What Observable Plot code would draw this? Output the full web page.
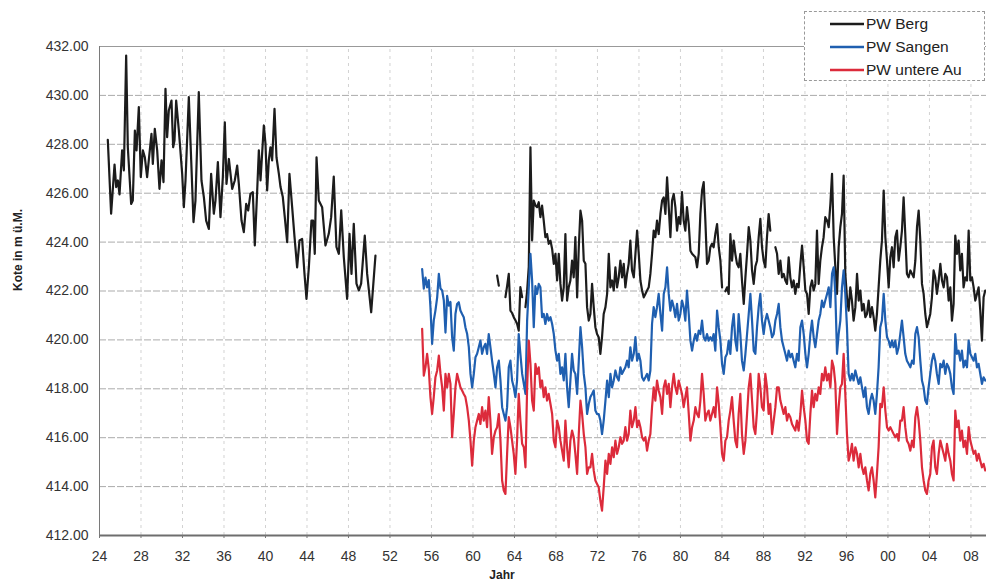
<!DOCTYPE html>
<html>
<head>
<meta charset="utf-8">
<script src="https://cdn.jsdelivr.net/npm/d3@7"></script>
<script src="https://cdn.jsdelivr.net/npm/@observablehq/plot@0.6"></script>
<style>
  body { margin: 0; background: #fff; }
  #wrap { position: relative; width: 986px; height: 588px; font-family: "Liberation Sans", Arial, sans-serif; color: #333; }
  #legend { position: absolute; left: 804px; top: 11px; width: 181px; height: 70px; border: 1px dashed #999; background: #fff; box-sizing: border-box; }
  .row { position: absolute; left: 0; height: 20px; line-height: 20px; font-size: 15.5px; color: #222; white-space: nowrap; }
  .row svg { position: absolute; left: 25px; top: 0; }
  .row span { position: absolute; left: 61px; top: 0; }
</style>
</head>
<body>
<div id="wrap"></div>
<script>
// ---------- data ----------
const seriesNames = ["PW Berg", "PW Sangen", "PW untere Au"];
const seriesColors = ["#1c1c1c", "#1f5fb0", "#dc2b3b"];

const xTicks = [1924,1928,1932,1936,1940,1944,1948,1952,1956,1960,1964,1968,1972,1976,1980,1984,1988,1992,1996,2000,2004,2008];
const yTicks = [412,414,416,418,420,422,424,426,428,430,432];

// PW Berg 1924-1950 [year, m ü.M.]
const berg1 = [
[1924.80,428.18],[1925.12,425.16],[1925.45,427.17],[1925.61,426.25],[1925.77,426.52],[1925.93,425.95],[1926.18,427.75],[1926.35,426.93],[1926.57,431.63],[1926.73,427.88],
[1927.05,425.56],[1927.21,425.70],[1927.41,428.56],[1927.57,427.75],[1927.79,429.52],[1927.98,426.66],[1928.18,427.75],[1928.37,427.47],[1928.59,426.66],[1928.75,427.34],
[1929.01,428.43],[1929.14,427.20],[1929.33,428.63],[1929.56,427.75],[1929.78,426.18],[1929.98,427.34],[1930.17,426.45],[1930.36,430.27],[1930.52,428.29],[1930.68,429.38],
[1930.94,429.79],[1931.10,427.88],[1931.23,428.15],[1931.39,429.79],[1931.65,428.56],[1931.97,426.79],[1932.13,425.43],[1932.29,426.52],[1932.61,429.93],[1932.84,427.34],
[1933.06,424.82],[1933.25,425.70],[1933.57,430.13],[1933.83,426.52],[1934.06,425.84],[1934.28,424.88],[1934.54,424.54],[1934.76,426.79],[1935.02,425.16],[1935.18,425.70],
[1935.41,427.27],[1935.66,425.02],[1935.89,426.66],[1936.08,428.90],[1936.24,426.38],[1936.47,427.40],[1936.79,426.18],[1937.04,426.52],[1937.27,427.13],[1937.43,426.38],
[1937.69,424.88],[1937.91,424.41],[1938.14,425.56],[1938.33,425.29],[1938.55,425.97],[1938.78,426.04],[1938.97,423.86],[1939.20,426.11],[1939.36,427.75],[1939.52,426.52],
[1939.84,428.77],[1940.00,428.02],[1940.16,426.11],[1940.32,427.34],[1940.48,427.88],[1940.64,427.34],[1940.87,429.45],[1941.06,427.47],[1941.29,426.79],[1941.45,426.25],
[1941.67,425.84],[1941.86,425.02],[1942.09,424.00],[1942.31,426.79],[1942.57,425.43],[1942.80,424.20],[1943.05,422.97],[1943.28,424.07],[1943.53,424.13],[1943.76,422.70],
[1943.95,421.68],[1944.18,422.97],[1944.43,424.88],[1944.59,424.88],[1944.75,423.52],[1944.92,427.47],[1945.14,425.70],[1945.46,425.43],[1945.78,423.86],[1946.10,424.34],
[1946.33,425.02],[1946.58,426.68],[1946.84,423.80],[1947.07,423.52],[1947.30,425.30],[1947.55,423.38],[1947.87,421.68],[1948.10,424.34],[1948.29,422.70],[1948.51,424.75],
[1948.77,422.30],[1949.00,422.02],[1949.22,422.30],[1949.57,424.27],[1949.80,422.70],[1950.19,421.13],[1950.60,423.45]
];

// common sampling dates 1955-2009
const zeit = [
1955.10,1955.26,1955.42,1955.58,1955.74,1955.90,1956.06,1956.22,1956.38,1956.55,
1956.71,1956.87,1957.03,1957.19,1957.35,1957.51,1957.67,1957.83,1957.99,1958.15,
1958.31,1958.47,1958.63,1958.79,1958.95,1959.11,1959.27,1959.44,1959.60,1959.76,
1959.92,1960.08,1960.24,1960.40,1960.56,1960.72,1960.88,1961.04,1961.20,1961.36,
1961.52,1961.68,1961.84,1962.01,1962.17,1962.33,1962.49,1962.65,1962.81,1962.97,
1963.13,1963.29,1963.45,1963.61,1963.77,1963.93,1964.09,1964.25,1964.41,1964.57,
1964.74,1964.90,1965.06,1965.22,1965.38,1965.54,1965.70,1965.86,
1966.02,1966.18,1966.34,1966.50,1966.66,1966.82,1966.98,1967.14,1967.30,1967.47,
1967.63,1967.79,1967.95,1968.11,1968.27,1968.43,1968.59,1968.75,1968.91,1969.07,
1969.23,1969.39,1969.55,1969.71,1969.87,1970.04,1970.20,1970.36,1970.52,1970.68,
1970.84,1971.00,1971.16,1971.32,1971.48,1971.64,1971.80,1971.96,1972.12,1972.28,
1972.44,1972.60,1972.77,1972.93,1973.09,1973.25,1973.41,1973.57,1973.73,1973.89,
1974.05,1974.21,1974.37,1974.53,1974.69,1974.85,1975.01,1975.17,1975.33,1975.50,
1975.66,1975.82,1975.98,1976.14,1976.30,1976.46,1976.62,1976.78,1976.94,1977.10,
1977.26,1977.42,1977.58,1977.74,1977.90,1978.07,1978.23,1978.39,1978.55,1978.71,
1978.87,1979.03,1979.19,1979.35,1979.51,1979.67,1979.83,1979.99,1980.15,1980.31,
1980.47,1980.63,1980.80,1980.96,1981.12,1981.28,1981.44,1981.60,1981.76,1981.92,
1982.08,1982.24,1982.40,1982.56,1982.72,1982.88,1983.04,1983.20,1983.36,1983.53,
1983.69,1983.85,1984.01,1984.17,1984.33,1984.49,1984.65,1984.81,1984.97,1985.13,
1985.29,1985.45,1985.61,1985.77,1985.93,1986.10,1986.26,1986.42,1986.58,1986.74,
1986.90,1987.06,1987.22,1987.38,1987.54,1987.70,1987.86,1988.02,1988.18,1988.34,
1988.50,1988.66,1988.83,1988.99,1989.15,1989.31,1989.47,1989.63,1989.79,1989.95,
1990.11,1990.27,1990.43,1990.59,1990.75,1990.91,1991.07,1991.23,1991.39,1991.56,
1991.72,1991.88,1992.04,1992.20,1992.36,1992.52,1992.68,1992.84,1993.00,1993.16,
1993.32,1993.48,1993.64,1993.80,1993.96,1994.13,1994.29,1994.45,1994.61,1994.77,
1994.93,1995.09,1995.25,1995.41,1995.57,1995.73,1995.89,1996.05,1996.21,1996.37,
1996.53,1996.69,1996.86,1997.02,1997.18,1997.34,1997.50,1997.66,1997.82,1997.98,
1998.14,1998.30,1998.46,1998.62,1998.78,1998.94,1999.10,1999.26,1999.42,1999.59,
1999.75,1999.91,2000.07,2000.23,2000.39,2000.55,2000.71,2000.87,2001.03,2001.19,
2001.35,2001.51,2001.67,2001.83,2001.99,2002.16,2002.32,2002.48,2002.64,2002.80,
2002.96,2003.12,2003.28,2003.44,2003.60,2003.76,2003.92,2004.08,2004.24,2004.40,
2004.56,2004.72,2004.89,2005.05,2005.21,2005.37,2005.53,2005.69,2005.85,2006.01,
2006.17,2006.33,2006.49,2006.65,2006.81,2006.97,2007.13,2007.29,2007.45,2007.62,
2007.78,2007.94,2008.10,2008.26,2008.42,2008.58,2008.74,2008.90,2009.06,2009.22,
2009.38
];

// PW Berg 1955-2009 (null = no measurement)
const berg2 = [
null,null,null,null,null,null,null,null,null,null,
null,null,null,null,null,null,null,null,null,null,
null,null,null,null,null,null,null,null,null,null,
null,null,null,null,null,null,null,null,null,null,
null,null,null,null,null,422.63,422.22,null,null,null,
421.75,422.20,422.70,421.20,421.10,420.93,420.80,420.66,420.38,422.16,
421.75,null,421.34,422.00,423.00,427.88,424.07,425.70,
425.50,425.43,425.63,425.02,425.49,424.88,424.20,424.33,423.93,424.06,
423.72,423.11,423.52,422.43,423.52,422.29,421.61,422.15,424.33,421.61,
422.15,422.43,423.24,422.56,424.20,421.74,423.79,425.29,424.88,423.24,
423.11,421.34,420.79,421.06,422.29,421.34,420.52,420.24,420.11,419.43,
420.11,421.06,421.34,421.88,423.52,422.15,422.43,422.02,422.97,422.15,
422.56,423.24,422.56,423.11,422.15,422.70,423.11,424.06,422.84,422.56,
423.52,424.47,423.52,422.43,422.02,421.74,421.88,422.02,422.15,422.70,
423.52,424.47,424.20,424.88,424.33,425.15,425.70,425.83,425.15,426.65,
425.43,424.20,425.70,425.97,425.43,424.47,425.02,424.74,426.04,424.88,
424.47,425.43,424.74,423.65,423.52,423.45,423.38,422.97,423.52,425.15,
426.11,426.45,424.88,423.11,423.24,423.79,423.93,423.79,424.33,424.74,
423.79,423.24,422.15,null,421.99,422.15,421.88,424.33,423.24,424.06,
423.52,423.11,422.97,423.52,422.43,421.47,422.56,423.52,424.61,424.06,
422.84,422.29,423.00,423.24,424.20,424.95,423.79,423.24,422.97,424.20,
425.15,424.47,null,null,423.79,423.52,422.70,423.24,422.56,422.70,
422.43,422.29,423.38,422.56,422.15,422.43,421.88,422.29,422.15,423.11,
423.86,422.97,422.02,421.88,421.06,422.15,422.43,422.02,422.29,424.47,
422.29,423.24,423.79,424.20,425.02,424.88,424.61,425.56,426.79,424.20,
422.97,421.88,423.79,424.61,425.15,426.72,422.70,421.74,421.20,422.15,
421.61,420.79,421.34,422.70,421.61,422.02,421.20,421.47,420.93,421.06,
421.61,420.93,421.34,420.93,420.38,421.06,422.15,423.24,424.06,426.11,
424.20,423.24,422.15,423.38,423.79,422.97,424.20,424.47,423.24,423.79,
424.47,425.83,424.33,422.70,422.56,422.84,422.70,422.56,423.24,424.61,
425.29,424.06,422.29,421.88,421.06,420.52,420.79,421.06,421.74,422.84,
422.56,421.88,422.43,423.11,422.43,422.15,422.70,422.56,421.61,422.15,
420.79,421.47,424.27,423.52,424.06,422.84,423.52,422.15,422.56,422.43,
424.47,422.43,422.56,422.15,421.61,421.88,422.15,421.20,419.97,421.74,
422.02
];

// PW Sangen
const sangen = [
422.90,422.10,422.55,422.15,422.45,421.34,419.84,420.79,421.20,421.74,
422.70,422.10,422.02,421.61,420.30,421.80,421.40,421.55,420.11,419.56,
421.06,421.47,421.54,421.20,421.06,420.93,420.52,420.24,419.70,418.61,
418.06,418.61,419.29,419.43,419.70,419.97,419.43,419.70,419.84,419.43,
420.24,419.70,419.15,418.61,418.06,418.88,419.15,418.34,417.25,416.97,
416.70,417.25,418.88,419.15,418.34,418.06,417.66,418.34,420.24,419.43,
418.61,418.20,417.79,420.79,422.15,423.52,422.43,420.52,
422.20,421.88,422.29,422.15,420.93,421.06,420.65,421.06,420.79,420.93,
420.65,420.24,419.56,419.15,419.43,418.61,418.88,418.34,419.43,418.06,
417.25,418.34,419.43,418.75,418.61,417.79,419.15,420.52,419.70,418.61,
418.06,416.97,417.38,417.66,417.79,417.93,417.11,416.97,416.97,416.70,
416.15,416.70,417.52,418.34,417.66,418.61,418.06,418.34,418.75,418.47,
418.34,418.88,418.61,418.75,418.88,419.15,418.88,419.70,419.15,419.43,
420.11,419.15,419.43,419.15,418.47,418.34,418.47,418.61,418.34,418.75,
420.65,421.34,420.93,421.34,421.88,421.06,420.38,421.88,422.15,422.97,
421.88,421.20,421.61,421.34,420.93,421.47,420.79,421.06,421.61,421.34,
420.79,422.02,421.06,419.97,419.56,419.97,420.24,419.97,420.38,420.24,
420.79,420.11,419.97,420.24,419.97,420.11,419.97,420.24,419.56,421.20,
420.52,419.97,419.02,418.61,419.29,419.43,419.97,419.43,420.52,421.06,
419.97,419.56,421.06,420.24,419.15,418.75,419.43,420.24,421.06,421.88,
420.79,419.56,419.43,420.52,421.34,421.88,420.79,420.24,420.79,421.06,
420.79,420.52,420.11,420.24,420.79,421.06,421.47,420.52,419.97,419.70,
419.43,419.15,419.56,419.29,419.43,419.15,418.88,419.43,419.15,420.52,
420.79,420.24,419.43,418.88,419.43,420.24,420.79,420.11,419.70,420.24,
420.79,421.06,421.61,421.34,421.61,421.88,422.15,421.34,422.70,422.97,
421.88,419.43,420.24,420.79,422.15,422.84,421.88,420.52,418.61,418.34,
418.61,418.34,418.75,418.47,418.20,418.47,418.06,417.66,418.06,417.25,
416.97,417.52,417.79,417.52,416.97,417.79,418.88,420.52,420.79,421.88,
420.79,420.11,419.97,419.70,419.97,419.70,419.97,419.43,419.70,420.24,
420.79,420.11,419.43,419.15,419.02,418.88,419.15,419.02,420.24,420.52,
420.11,419.15,418.34,418.06,417.52,417.38,418.06,418.61,419.15,419.43,
419.15,418.61,418.20,419.02,418.88,419.15,418.61,419.02,418.88,418.61,
418.06,417.79,420.24,419.43,419.56,419.15,419.56,418.88,419.15,418.88,
419.97,419.43,419.29,419.15,419.43,418.88,419.02,418.61,418.20,418.47,
418.34
];

// PW untere Au
const untereAu = [
420.45,418.54,418.88,419.43,418.82,417.66,416.97,417.66,418.47,418.75,
419.36,418.61,418.06,417.11,418.61,418.06,418.61,418.20,416.02,416.97,
418.06,418.61,418.34,418.06,417.93,417.79,417.66,417.25,416.70,415.88,
414.86,415.88,416.43,416.70,416.97,416.56,417.25,416.70,417.11,416.43,
417.66,416.70,415.34,416.02,416.29,416.43,416.97,415.88,414.25,413.84,
413.70,415.34,416.84,416.43,415.88,415.34,414.52,415.88,417.79,416.70,
415.75,415.61,414.79,418.06,419.97,419.02,417.52,417.11,
419.02,418.61,418.88,418.06,418.34,417.66,418.06,417.52,417.79,417.38,
416.97,415.88,415.61,416.70,416.43,415.88,415.47,415.06,416.70,415.61,
414.79,415.88,416.29,416.02,415.34,414.52,416.15,417.52,416.97,416.15,
415.61,414.52,414.79,414.79,415.34,414.66,414.25,414.11,413.97,413.43,
413.02,413.97,415.06,414.52,415.34,414.93,415.61,415.20,415.88,415.34,
415.61,416.02,415.75,415.88,416.43,415.88,416.15,417.11,416.43,416.70,
417.25,416.43,416.70,416.43,416.02,415.88,416.02,415.47,415.88,416.15,
417.25,418.06,417.52,418.34,417.93,417.66,416.97,418.06,418.34,417.79,
418.20,417.25,418.06,418.61,418.06,417.79,418.34,418.06,417.79,417.25,
417.66,418.06,416.97,415.88,416.43,416.70,417.25,416.97,416.84,417.52,
418.61,417.79,416.70,416.97,417.11,416.70,416.97,417.25,416.84,418.06,
417.38,416.43,415.34,415.06,415.88,416.02,416.70,417.11,417.66,416.70,
415.88,415.61,416.97,417.79,416.15,415.34,415.88,416.97,418.06,418.61,
417.52,416.43,416.15,417.11,418.61,418.06,417.25,417.11,418.61,418.06,
416.97,417.38,416.15,416.70,417.25,418.06,418.06,417.52,417.25,416.97,
417.25,416.70,416.97,416.84,416.56,416.43,416.29,416.70,416.29,416.97,
417.93,417.25,416.70,415.88,415.75,416.97,417.93,417.25,417.79,417.52,
418.06,417.79,418.61,418.34,418.88,418.34,418.61,418.06,419.15,418.88,
418.20,416.15,417.25,418.06,418.20,419.43,417.79,416.15,415.06,415.34,
415.75,415.06,415.61,415.34,414.79,415.34,414.79,414.52,414.79,414.25,
413.84,414.52,414.79,414.25,413.56,414.52,415.61,417.38,417.25,418.06,
417.11,416.43,416.29,416.43,416.29,416.15,416.02,416.15,415.88,416.70,
416.70,417.25,416.43,415.88,415.75,415.47,415.88,415.61,416.84,417.25,
416.70,415.88,414.79,414.25,413.84,413.70,414.25,414.52,415.61,415.88,
414.79,414.52,415.34,415.88,415.61,415.34,415.06,415.75,415.34,415.06,
414.52,414.25,417.11,416.43,416.70,415.88,416.29,415.61,415.88,415.34,
416.43,415.88,415.61,415.34,415.47,415.06,415.34,415.06,414.79,414.93,
414.66
];

// ---------- build tables ----------
const bergRows = berg1.map(([t, v]) => ({t, v})).concat(zeit.map((t, i) => ({t, v: berg2[i]})));
const sangenRows = zeit.map((t, i) => ({t, v: sangen[i]}));
const auRows = zeit.map((t, i) => ({t, v: untereAu[i]}));
const twoDigit = d => String(d % 100).padStart(2, "0");

const chart = Plot.plot({
  width: 986,
  height: 588,
  marginLeft: 99,
  marginRight: 0,
  marginTop: 46,
  marginBottom: 53,
  style: {fontFamily: "'Liberation Sans', Arial, sans-serif", color: "#333", background: "#fff"},
  x: {domain: [1924, 2009.5]},
  y: {domain: [412, 432]},
  marks: [
    Plot.ruleX(xTicks.slice(1), {y1: 412, y2: 432, stroke: "#d2d2d2", strokeDasharray: "3,4"}),
    Plot.ruleY(yTicks.slice(1, -1), {stroke: "#ababab", strokeDasharray: "7,2"}),
    Plot.ruleY([432], {stroke: "#999"}),
    Plot.line(bergRows, {x: "t", y: "v", stroke: seriesColors[0], strokeWidth: 2.2}),
    Plot.line(sangenRows, {x: "t", y: "v", stroke: seriesColors[1], strokeWidth: 2.2}),
    Plot.line(auRows, {x: "t", y: "v", stroke: seriesColors[2], strokeWidth: 2.2}),
    Plot.ruleY([412], {stroke: "#6e6e6e", strokeWidth: 2}),
    Plot.ruleX([1924], {y1: 412, y2: 432, stroke: "#7a7a7a"}),
    Plot.axisY({ticks: yTicks, tickFormat: d => d.toFixed(2), tickSize: 0, tickPadding: 11, fontSize: 14, label: null}),
    Plot.axisX({ticks: xTicks, tickFormat: twoDigit, tickSize: 3, tickPadding: 13, fontSize: 14, label: null, stroke: "#777"}),
    Plot.text(["Kote in m ü.M."], {frameAnchor: "left", dx: -81, rotate: -90, fontSize: 12, fontWeight: "bold", fill: "#222"}),
    Plot.text(["Jahr"], {frameAnchor: "bottom", dx: -41, dy: 43, fontSize: 12, fontWeight: "bold", fill: "#222"})
  ]
});

const wrap = document.getElementById("wrap");
wrap.appendChild(chart);

// legend
const legend = document.createElement("div");
legend.id = "legend";
const rowTops = [2, 25, 48];
seriesNames.forEach((name, i) => {
  const row = document.createElement("div");
  row.className = "row";
  row.style.top = rowTops[i] + "px";
  row.style.width = "180px";
  row.innerHTML = `<svg width="34" height="20"><line x1="0" x2="34" y1="10" y2="10" stroke="${seriesColors[i]}" stroke-width="2.5"/></svg><span>${name}</span>`;
  legend.appendChild(row);
});
wrap.appendChild(legend);
</script>
</body>
</html>
